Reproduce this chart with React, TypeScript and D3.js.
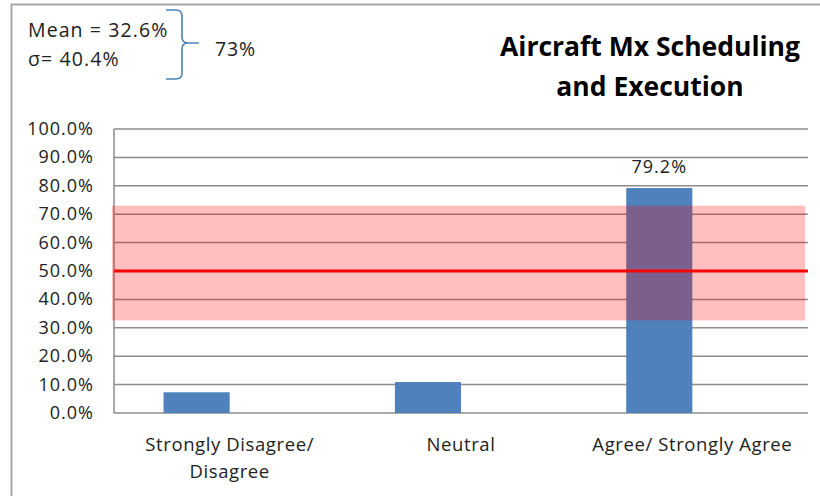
import React, { useEffect, useRef } from "react";
import * as d3 from "d3";

const categories = ["Strongly Disagree/\nDisagree", "Neutral", "Agree/ Strongly Agree"];
const values = [7.3, 10.9, 79.2];
const yTicks = [0, 10, 20, 30, 40, 50, 60, 70, 80, 90, 100];
const meanValue = 32.6;
const sigmaValue = 40.4;
const refLine = 50;
const titleLines = ["Aircraft Mx Scheduling", "and Execution"];
const statLines = ["Mean = 32.6%", "σ= 40.4%"];
const upperLabel = "73%";

const W = 820;
const H = 496;
const M = { left: 114, right: 12, top: 129, bottom: 83 };
const FONT = "'Open Sans', 'Noto Sans', sans-serif";

export default function App() {
  const ref = useRef<SVGSVGElement | null>(null);

  useEffect(() => {
    const svg = d3.select(ref.current);
    svg.selectAll("*").remove();

    const x = d3.scaleBand<string>().domain(categories).range([M.left, W - M.right]).paddingInner(0).paddingOuter(0);
    const sub = d3.scaleBand<string>().domain(["a", "b"]).range([0, x.bandwidth()]).paddingInner(0).paddingOuter(0.75);
    const y = d3.scaleLinear().domain([0, 100]).range([H - M.bottom, M.top]);

    // outer chart border
    svg.append("path").attr("d", `M11.5,${H} L11.5,4.5 L${W},4.5`).attr("fill", "none").attr("stroke", "#a9a9a9").attr("stroke-width", 2);

    // gridlines
    svg.append("g").selectAll("line").data(yTicks).join("line")
      .attr("x1", M.left).attr("x2", W - M.right)
      .attr("y1", (d) => y(d)).attr("y2", (d) => y(d))
      .attr("stroke", "#8c8c8c").attr("stroke-width", 1.5);

    // y axis line
    svg.append("line").attr("x1", M.left).attr("x2", M.left).attr("y1", y(100)).attr("y2", y(0))
      .attr("stroke", "#8c8c8c").attr("stroke-width", 1.5);

    // tick labels
    svg.append("g").selectAll("text").data(yTicks).join("text")
      .attr("x", 94).attr("y", (d) => y(d) + 6)
      .attr("text-anchor", "end")
      .attr("font-family", FONT).attr("font-size", 18).attr("letter-spacing", 1)
      .attr("fill", "#222")
      .text((d) => d3.format(".1f")(d) + "%");

    // bars
    svg.append("g").selectAll("rect").data(values).join("rect")
      .attr("x", (_, i) => (x(categories[i]) as number) + (sub("a") as number))
      .attr("width", sub.bandwidth())
      .attr("y", (d) => y(d))
      .attr("height", (d) => y(0) - y(d))
      .attr("fill", "#4f81bd");

    // sigma band
    svg.append("rect")
      .attr("x", M.left - 2).attr("width", W - M.right - M.left - 1)
      .attr("y", y(meanValue + sigmaValue)).attr("height", y(meanValue) - y(meanValue + sigmaValue))
      .attr("fill", "rgba(255,0,0,0.25)");

    // reference line
    svg.append("line").attr("x1", M.left).attr("x2", W - M.right).attr("y1", y(refLine)).attr("y2", y(refLine))
      .attr("stroke", "#ff0000").attr("stroke-width", 3);

    // value label
    const iMax = 2;
    svg.append("text")
      .attr("x", (x(categories[iMax]) as number) + (sub("a") as number) + sub.bandwidth() / 2)
      .attr("y", y(values[iMax]) - 15)
      .attr("text-anchor", "middle")
      .attr("font-family", FONT).attr("font-size", 18).attr("letter-spacing", 1).attr("fill", "#222")
      .text(d3.format(".1f")(values[iMax]) + "%");

    // category labels
    categories.forEach((c) => {
      const cx = (x(c) as number) + x.bandwidth() / 2;
      const lines = c.split("\n");
      const t = svg.append("text").attr("text-anchor", "middle")
        .attr("font-family", FONT).attr("font-size", 18.5).attr("letter-spacing", 0.6).attr("fill", "#222");
      lines.forEach((l, k) => {
        t.append("tspan").attr("x", cx).attr("y", 451 + k * 27).text(l);
      });
    });

    // title
    const tt = svg.append("text").attr("text-anchor", "middle")
      .attr("font-family", FONT).attr("font-size", 26.5).attr("font-weight", "bold").attr("fill", "#000");
    titleLines.forEach((l, k) => {
      tt.append("tspan").attr("x", 650).attr("y", 56 + k * 40).text(l);
    });

    // stats text
    statLines.forEach((l, k) => {
      svg.append("text").attr("x", 28).attr("y", 37 + k * 29)
        .attr("font-family", FONT).attr("font-size", 19.5).attr("letter-spacing", 1.1).attr("fill", "#222").text(l);
    });

    // brace
    const bx = 182, top = 10, bot = 79, mid = 43, r = 6;
    svg.append("path")
      .attr("d", `M166,${top} L${bx - r},${top} Q${bx},${top} ${bx},${top + r} L${bx},${mid - r} Q${bx},${mid} ${bx + r},${mid} L199,${mid} M${bx + r},${mid} Q${bx},${mid} ${bx},${mid + r} L${bx},${bot - r} Q${bx},${bot} ${bx - r},${bot} L166,${bot}`)
      .attr("fill", "none").attr("stroke", "#4f81bd").attr("stroke-width", 1.6);

    svg.append("text").attr("x", 215).attr("y", 56)
      .attr("font-family", FONT).attr("font-size", 19.5).attr("letter-spacing", 0.9).attr("fill", "#222").text(upperLabel);
  }, []);

  return (
    <svg ref={ref} width={W} height={H} style={{ position: "absolute", left: 0, top: 0, background: "#fff" }} />
  );
}
